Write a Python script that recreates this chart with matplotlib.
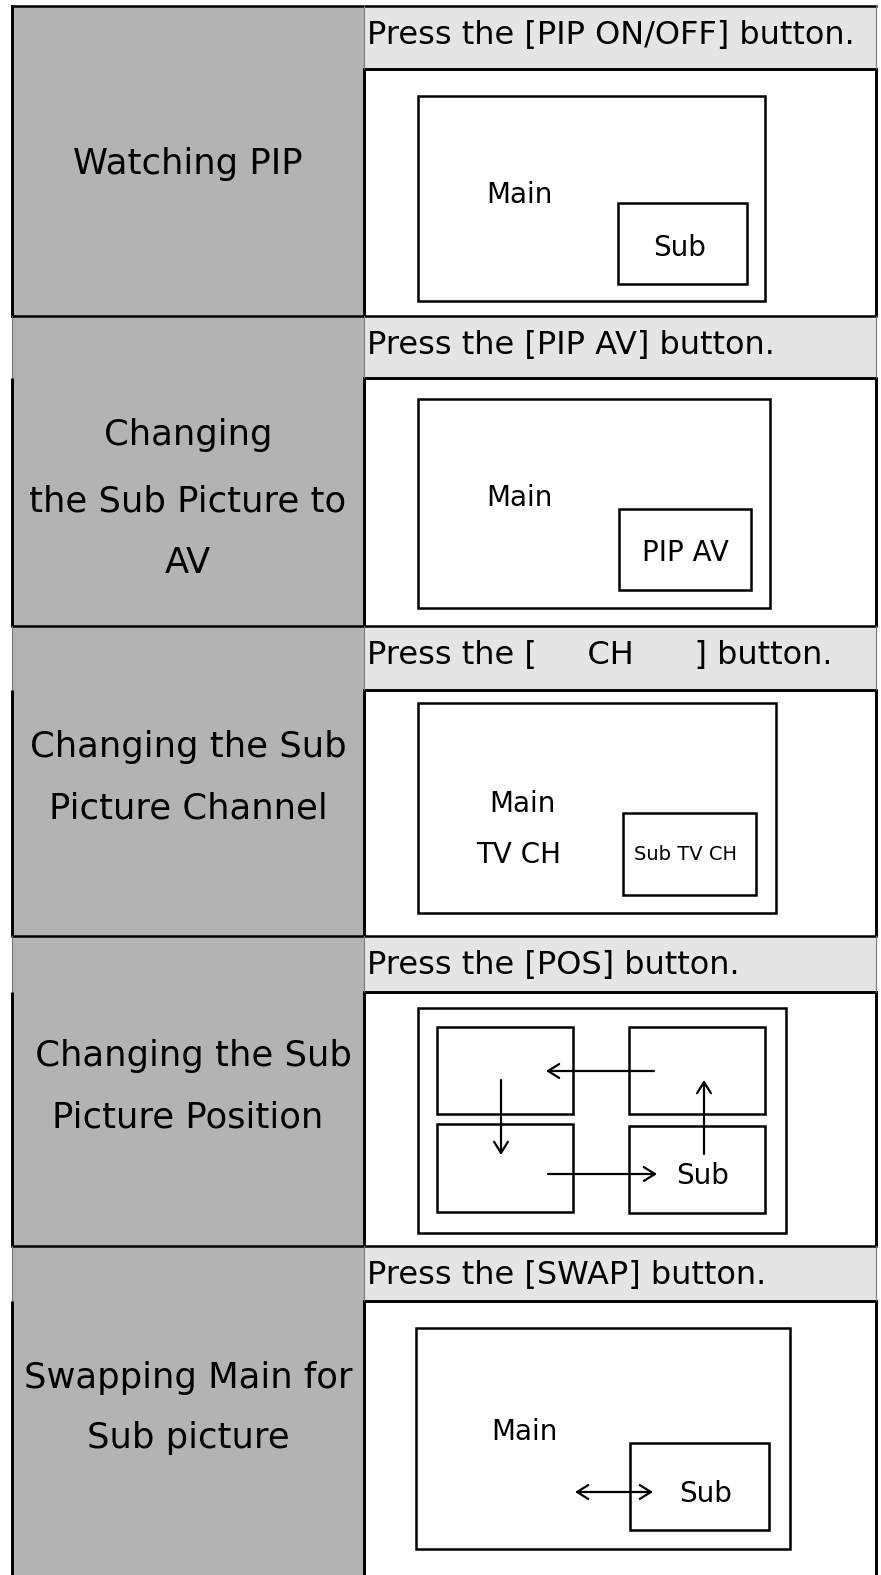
import matplotlib
matplotlib.use('Agg')
import matplotlib.pyplot as plt
from matplotlib.patches import Rectangle

# table content
row_labels = [
    ["Watching PIP"],
    ["Changing", "the Sub Picture to", "AV"],
    ["Changing the Sub", "Picture Channel"],
    [" Changing the Sub", "Picture Position"],
    ["Swapping Main for", "Sub picture"],
]
button_texts = [
    "Press the [PIP ON/OFF] button.",
    "Press the [PIP AV] button.",
    "Press the [     CH      ] button.",
    "Press the [POS] button.",
    "Press the [SWAP] button.",
]

# table layout (pixel coords, y down)
row_tops = [6, 316, 626, 936, 1246]
header_bottoms = [69, 378, 690, 992, 1301]
page_bottom = 1575
x_left, x_split, x_right = 12, 364, 876
label_centers = [[161], [432, 499, 560], [744, 806], [1053, 1115], [1375, 1435]]

# screen drawings: rectangles (x0, y0, x1, y1)
screens = [
    [(418, 96, 765, 301), (618, 203, 747, 284)],
    [(418, 399, 770, 608), (619, 509, 751, 590)],
    [(418, 703, 776, 913), (623, 813, 756, 895)],
    [(418, 1008, 786, 1233), (437, 1027, 573, 1114), (629, 1027, 765, 1114),
     (437, 1124, 573, 1212), (629, 1126, 765, 1213)],
    [(416, 1328, 790, 1549), (630, 1443, 769, 1530)],
]
# captions inside screens: (text, x, y, size)
captions = [
    [("Main", 519, 193, 20), ("Sub", 680, 246, 20)],
    [("Main", 519, 496, 20), ("PIP AV", 685, 551, 20)],
    [("Main", 522, 802, 20), ("TV CH", 519, 853, 20), ("Sub TV CH", 686, 853, 14)],
    [("Sub", 703, 1174, 20)],
    [("Main", 524, 1430, 20), ("Sub", 706, 1492, 20)],
]
# arrows: (start, end, style)
arrows = [
    [], [], [],
    [((654, 1071), (546, 1071), '->'), ((501, 1080), (501, 1155), '->'),
     ((548, 1174), (657, 1174), '->'), ((704, 1154), (704, 1080), '->')],
    [((575, 1492), (653, 1492), '<->')],
]

LEFT_GRAY = '#b3b3b3'
HEAD_GRAY = '#e5e5e5'
FONT = 'DejaVu Sans'

fig = plt.figure(figsize=(8.81, 15.75), dpi=100)
ax = fig.add_axes([0, 0, 1, 1])
ax.set_xlim(0, 881)
ax.set_ylim(page_bottom, 0)
ax.axis('off')


def put(x, yc, s, size, ha='center'):
    # place text so that the capital letters are centred on yc
    cap = 0.729 * size * 100 / 72
    ax.text(x, yc + cap / 2, s, fontsize=size, ha=ha, va='baseline',
            family=FONT, color='black')


# fills
ax.add_patch(Rectangle((x_left, row_tops[0]), x_split - x_left, page_bottom - row_tops[0],
                       facecolor=LEFT_GRAY, edgecolor='none'))
for top, hb in zip(row_tops, header_bottoms):
    ax.add_patch(Rectangle((x_split, top), x_right - x_split, hb - top,
                           facecolor=HEAD_GRAY, edgecolor='none'))

# grid lines
row_ends = row_tops[1:] + [page_bottom]
for i, (top, hb, end) in enumerate(zip(row_tops, header_bottoms, row_ends)):
    ax.plot([x_left, x_right], [top, top], color='black', lw=1.8, solid_capstyle='projecting')
    ax.plot([x_split, x_right], [hb, hb], color='black', lw=2.1, solid_capstyle='projecting')
    for xv in (x_left, x_split, x_right):
        if i == 0 and xv == x_left:
            ax.plot([xv, xv], [top, end], color='black', lw=2.1)
            continue
        ax.plot([xv, xv], [top, hb], color='#7a7a7a', lw=0.8)
        ax.plot([xv, xv], [hb, end], color='black', lw=2.1, solid_capstyle='butt')

# left column labels
for lines, ys in zip(row_labels, label_centers):
    for s, yc in zip(lines, ys):
        put(188, yc, s, 25.5)

# button instructions
for s, top in zip(button_texts, row_tops):
    ax.text(367, top + 38, s, fontsize=23, ha='left', va='baseline', family=FONT)

# screen drawings
for boxes in screens:
    for x0, y0, x1, y1 in boxes:
        ax.add_patch(Rectangle((x0, y0), x1 - x0, y1 - y0, facecolor='none',
                               edgecolor='black', lw=1.8))
for caps in captions:
    for s, x, y, size in caps:
        put(x, y, s, size)
for arr in arrows:
    for start, end, style in arr:
        ax.annotate('', xy=end, xytext=start,
                    arrowprops=dict(arrowstyle=style + ',head_length=0.4,head_width=0.25',
                                    lw=1.6, color='black', shrinkA=0, shrinkB=0,
                                    mutation_scale=20))

fig.savefig('out.png', dpi=100)
